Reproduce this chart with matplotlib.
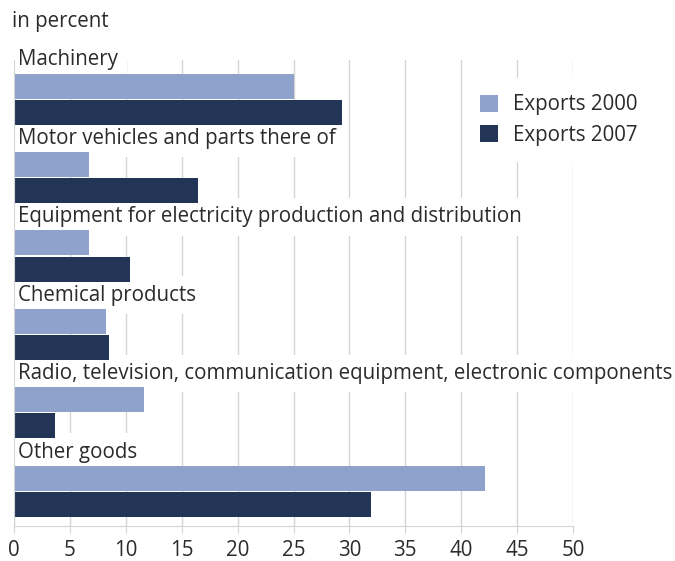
import matplotlib.pyplot as plt
from matplotlib.patches import Patch

categories = [
    "Machinery",
    "Motor vehicles and parts there of",
    "Equipment for electricity production and distribution",
    "Chemical products",
    "Radio, television, communication equipment, electronic components",
    "Other goods",
]
exports_2000 = [25.0, 6.7, 6.7, 8.2, 11.6, 42.1]
exports_2007 = [29.3, 16.5, 10.4, 8.5, 3.65, 31.9]
series_names = ["Exports 2000", "Exports 2007"]
x_ticks = list(range(0, 51, 5))

c2000 = "#8ea2cc"
c2007 = "#233557"
txt = "#2b2b2b"
grid = "#d4d4d4"

plt.rcParams["font.family"] = ["Open Sans", "DejaVu Sans"]
fs = 14.8

W, H = 675, 561
fig = plt.figure(figsize=(W / 100, H / 100), dpi=100)
ax = fig.add_axes([14 / W, 1 - 526 / H, (573 - 14) / W, (526 - 60) / H])

pitch = 3
for i, cat in enumerate(categories):
    base = i * pitch
    ax.barh(base + 1, exports_2000[i], height=0.96, color=c2000, zorder=2)
    ax.barh(base + 2, exports_2007[i], height=0.96, color=c2007, zorder=2)
    ax.text(0.4, base, cat, fontsize=fs, color=txt, va="center", ha="left",
            zorder=1.5,
            bbox=dict(boxstyle="square,pad=0.4", fc="white", ec="none"))

ax.set_xlim(0, 50)
ax.set_ylim(len(categories) * pitch - 0.17, 0)
ax.set_xticks(x_ticks)
ax.set_yticks([])
ax.xaxis.grid(True, color=grid, linewidth=1, zorder=0)
ax.set_axisbelow(True)
ax.tick_params(axis="x", length=5, color=grid, labelsize=fs, labelcolor=txt, pad=5)

for s in ["top", "right"]:
    ax.spines[s].set_visible(False)
for s in ["left", "bottom"]:
    ax.spines[s].set_color(grid)
    ax.spines[s].set_zorder(3)

handles = [Patch(fc=c2000, ec="none"), Patch(fc=c2007, ec="none")]
leg = fig.legend(handles, series_names, loc="upper left",
                 bbox_to_anchor=(464 / W, 1 - 78 / H), frameon=True,
                 fontsize=fs, handlelength=0.85, handleheight=0.85,
                 handletextpad=0.75, labelspacing=0.45, borderpad=0.8,
                 borderaxespad=0)
leg.get_frame().set_facecolor("white")
leg.get_frame().set_edgecolor("none")
leg.get_frame().set_alpha(1)
leg.set_zorder(5)
for t in leg.get_texts():
    t.set_color(txt)

fig.text(12 / W, 1 - 22 / H, "in percent", fontsize=fs, color=txt,
         va="center", ha="left")

fig.savefig("out.png", dpi=100)
